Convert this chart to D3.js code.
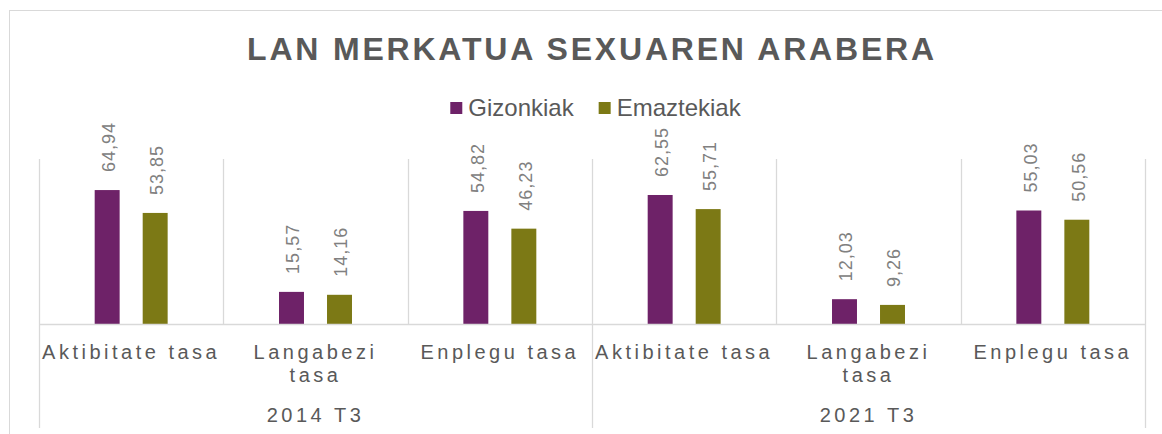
<!DOCTYPE html>
<html>
<head>
<meta charset="utf-8">
<script src="https://cdn.jsdelivr.net/npm/d3@7"></script>
<style>
  body { margin: 0; background: #fff; }
  text { font-family: "Liberation Sans", Arial, sans-serif; }
</style>
</head>
<body>
<svg id="chart" width="1162" height="434"></svg>
<script>
// data
let groups = ["2014 T3", "2021 T3"]
let measures = [["Aktibitate tasa"], ["Langabezi", "tasa"], ["Enplegu tasa"]]
let series = ["Gizonkiak", "Emaztekiak"]
let gizonkiak = [64.94, 15.57, 54.82, 62.55, 12.03, 55.03]
let emaztekiak = [53.85, 14.16, 46.23, 55.71, 9.26, 50.56]
let colors = ["#6e2268", "#7c7915"]

let svg = d3.select("#chart")
let plotLeft = 39, plotRight = 1145, plotTop = 159, base = 324, plotBottom = 428
let grid = "#d9d9d9"

// outer border
svg.append("rect").attr("x", 9.5).attr("y", 10.5).attr("width", 1300).attr("height", 600)
    .attr("fill", "none").attr("stroke", grid)

// categories: one per group x measure
let cats = []
groups.forEach((g, gi) => measures.forEach((m, mi) => cats.push({g: g, gi: gi, lines: m, key: gi + "-" + mi})))
let values = cats.map((c, i) => [gizonkiak[i], emaztekiak[i]])

let x0 = d3.scaleBand().domain(cats.map(c => c.key)).range([plotLeft, plotRight]).padding(0)
let x1 = d3.scaleBand().domain(series).range([0, x0.bandwidth()]).paddingInner(0.48).paddingOuter(1.16)
let y = d3.scaleLinear().domain([0, 80]).range([base, plotTop])

// vertical gridlines
let bounds = cats.map(c => x0(c.key)).concat([plotRight])
svg.selectAll(".vgrid").data(bounds).enter().append("line")
    .attr("x1", d => Math.round(d) + 0.5).attr("x2", d => Math.round(d) + 0.5)
    .attr("y1", plotTop).attr("y2", base)
    .attr("stroke", grid).attr("stroke-width", 1.3)

// group dividers below the axis
let gbounds = [plotLeft, x0(cats[3].key), plotRight]
svg.selectAll(".gdiv").data(gbounds).enter().append("line")
    .attr("x1", d => Math.round(d) + 0.5).attr("x2", d => Math.round(d) + 0.5)
    .attr("y1", base).attr("y2", plotBottom)
    .attr("stroke", grid).attr("stroke-width", 1.3)

// bars
let cg = svg.selectAll(".cat").data(cats).enter().append("g")
    .attr("transform", c => "translate(" + x0(c.key) + ",0)")

cg.each(function(c, i) {
    let g = d3.select(this)
    let d = series.map((s, si) => ({s: s, v: values[i][si], color: colors[si]}))
    g.selectAll("rect").data(d).enter().append("rect")
        .attr("x", e => x1(e.s)).attr("width", x1.bandwidth())
        .attr("y", e => y(e.v)).attr("height", e => base - y(e.v))
        .attr("fill", e => e.color)
    g.selectAll(".lbl").data(d).enter().append("text")
        .attr("transform", e => "translate(" + (x1(e.s) + x1.bandwidth() / 2 + 1.5) + "," + (y(e.v) - 18) + ") rotate(-90)")
        .attr("dy", "0.35em")
        .attr("font-size", 18).attr("letter-spacing", 1)
        .attr("fill", "#808080")
        .text(e => d3.format(".2f")(e.v).replace(".", ","))
})

// axis baseline
svg.append("line").attr("x1", plotLeft).attr("x2", plotRight).attr("y1", base + 0.5).attr("y2", base + 0.5)
    .attr("stroke", grid).attr("stroke-width", 1.3)

// category labels
cats.forEach(c => {
    let t = svg.append("text").attr("text-anchor", "middle")
        .attr("font-size", 20).attr("letter-spacing", 3.5).attr("fill", "#595959")
    c.lines.forEach((ln, li) => {
        t.append("tspan").attr("x", x0(c.key) + x0.bandwidth() / 2)
            .attr("y", 359 + li * 23).text(ln)
    })
})

// group labels
groups.forEach((g, gi) => {
    let a = x0(cats[gi * 3].key), b = x0(cats[gi * 3 + 2].key) + x0.bandwidth()
    svg.append("text").attr("x", (a + b) / 2).attr("y", 422)
        .attr("text-anchor", "middle").attr("font-size", 20).attr("letter-spacing", 3.5)
        .attr("fill", "#595959").text(g)
})

// title
svg.append("text").attr("x", (plotLeft + plotRight) / 2).attr("y", 60)
    .attr("text-anchor", "middle").attr("font-size", 32).attr("font-weight", "bold")
    .attr("letter-spacing", 2.8).attr("fill", "#595959")
    .text("LAN MERKATUA SEXUAREN ARABERA")

// legend
let legend = svg.append("g")
let lx = 0
series.forEach((s, si) => {
    let item = legend.append("g").attr("transform", "translate(" + lx + ",0)")
    item.append("rect").attr("x", 0).attr("y", 102).attr("width", 12).attr("height", 12).attr("fill", colors[si])
    let t = item.append("text").attr("x", 18).attr("y", 116).attr("font-size", 24).attr("fill", "#595959").text(s)
    lx += 18 + t.node().getComputedTextLength() + 25
})
let lw = lx - 25
legend.attr("transform", "translate(" + ((plotLeft + plotRight) / 2 + 3.5 - lw / 2) + ",0)")
</script>
</body>
</html>
